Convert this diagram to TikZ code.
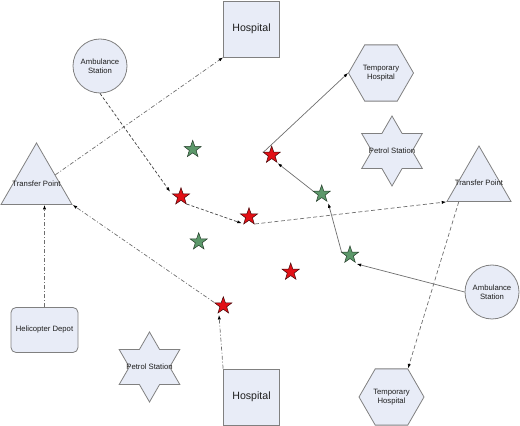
\documentclass[tikz,border=0pt]{standalone}
\usepackage{fontspec}
\setmainfont{Liberation Sans}
\usetikzlibrary{shapes.geometric,arrows.meta,calc}
\definecolor{nodefill}{RGB}{232,236,247}
\definecolor{bordergray}{RGB}{128,128,128}
\definecolor{textc}{RGB}{30,30,30}
\definecolor{starred}{RGB}{226,16,22}
\definecolor{stargreen}{RGB}{92,152,106}
\definecolor{linegray}{RGB}{110,110,110}
\newcommand{\zw}[1]{\makebox[0pt]{#1}}
\tikzset{
  shp/.style={draw=bordergray, fill=nodefill, line width=0.8pt, inner sep=0pt, text=textc, align=center, font=\fontsize{7.7}{9}\selectfont},
  hosp/.style={shp, rectangle, minimum size=56pt, font=\fontsize{10.6}{12}\selectfont},
  amb/.style={shp, circle, minimum size=54pt},
  temph/.style={shp, regular polygon, regular polygon sides=6, minimum size=65pt},
  petrol/.style={shp, star, star points=6, star point ratio=1.732, minimum size=70pt},
  transfer/.style={shp, regular polygon, regular polygon sides=3},
  depot/.style={shp, rectangle, rounded corners=5pt, minimum width=67pt, minimum height=45pt},
  starbase/.style={star, star points=5, star point ratio=2.5, minimum size=18pt, inner sep=0pt, line width=0.5pt},
  redstar/.style={starbase, fill=starred, draw=black!70!starred},
  greenstar/.style={starbase, fill=stargreen, draw=black!60!stargreen},
  arr/.style={line width=0.7pt, -{Latex[length=4.5pt,width=3.2pt,color=black]}},
  dashdark/.style={arr, draw=black!75, dash pattern=on 3pt off 2pt},
  dashgray/.style={arr, draw=linegray, dash pattern=on 4pt off 2.5pt},
  dashdot/.style={arr, draw=linegray, dash pattern=on 4pt off 2pt on 1pt off 2pt},
  solidgray/.style={arr, draw=linegray}
}
\begin{document}
\begin{tikzpicture}[x=1pt,y=1pt]
\useasboundingbox (0,0) rectangle (520,426);
% shapes
\node[hosp] (hosp1) at (251.5,397) {Hospital};
\node[hosp] (hosp2) at (251.5,29) {Hospital};
\node[amb] (amb1) at (100,360) {Ambulance\\Station};
\node[amb] (amb2) at (492,134) {Ambulance\\Station};
\node[temph] (th1) at (381,353) {Temporary\\Hospital};
\node[temph] (th2) at (391.5,29) {Temporary\\Hospital};
\node[petrol] (ps1) at (392,275) {\zw{Petrol Station}};
\node[petrol] (ps2) at (149.5,59) {\zw{Petrol Station}};
\node[transfer, minimum size=82pt] (tp1) at (36.5,242) {\zw{Transfer Point}};
\node[transfer, minimum size=74pt] (tp2) at (479,243) {\zw{Transfer Point}};
\node[depot] (heli) at (44.5,96) {Helicopter Depot};
% stars
\node[greenstar] (g1) at (192.7,276.7) {};
\node[redstar] (r1) at (181,229.3) {};
\node[redstar] (r2) at (249,209.3) {};
\node[redstar] (r3) at (271.7,271) {};
\node[greenstar] (g2) at (321.7,232) {};
\node[greenstar] (g3) at (198.7,184.3) {};
\node[greenstar] (g4) at (350,171) {};
\node[redstar] (r4) at (290.7,154) {};
\node[redstar] (r5) at (223.3,120.3) {};
% connectors
\draw[dashdark] (amb1.south) -- ($(r1)+(155.6:12)$);
\draw[dashdark] ($(r1)+(-52:9.3)$) -- ($(r2)+(222:9.8)$);
\draw[dashgray] ($(r2)+(-50.6:9.4)$) -- (tp2.corner 2);
\draw[dashgray] (tp2.223.5) -- (th2.corner 1);
\draw[solidgray] (amb2.west) -- ($(g4)+(-53:11.2)$);
\draw[solidgray] ($(g4)+(164.5:8.6)$) -- ($(g2)+(-54.6:11.4)$);
\draw[solidgray] ($(g2)+(161:9.2)$) -- ($(r3)+(-54:10.2)$);
\draw[solidgray] ($(r3)+(162:8.8)$) -- (th1.corner 3);
\draw[dashdot] (tp1.26) -- (hosp1.south west);
\draw[dashdot] (heli.north) -- (heli.north |- tp1.south);
\draw[dashdot] ($(r5)+(160:9.9)$) -- (tp1.corner 3);
\draw[dashdot] (hosp2.north west) -- ($(r5)+(245:10.2)$);
\end{tikzpicture}
\end{document}
